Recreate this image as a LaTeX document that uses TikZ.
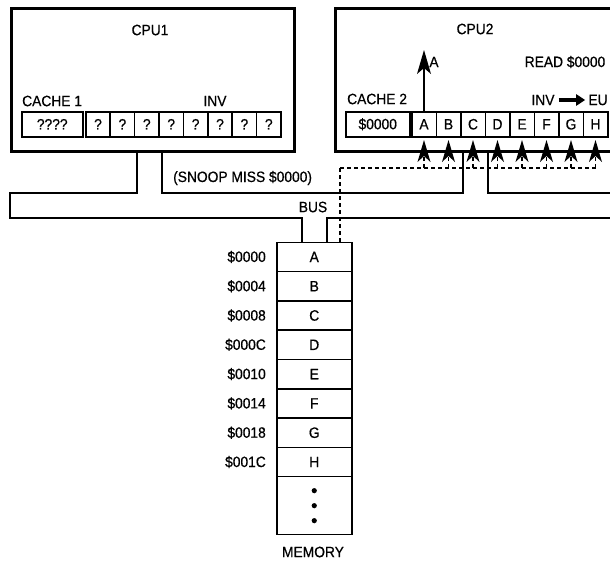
\documentclass[tikz,border=0pt]{standalone}
\usepackage{fontspec}
\setmainfont{Liberation Sans}[FakeStretch=0.92,FakeBold=0.6]
\usetikzlibrary{arrows.meta}
\begin{document}
\begin{tikzpicture}[x=1pt,y=-1pt, font=\fontsize{15}{17}\selectfont,
  cpubox/.style={draw, line width=2.8pt, inner sep=0pt, anchor=north west},
  cell/.style={draw, line width=1.5pt, minimum width=24.5pt, minimum height=25pt, inner sep=0pt, anchor=north west},
  wcell/.style={cell, minimum width=61pt},
  mcell/.style={draw, line width=1.5pt, minimum width=75pt, minimum height=29.3pt, inner sep=0pt, anchor=north west},
  wire/.style={line width=1.5pt},
  snoop/.style={line width=1.5pt, dash pattern=on 4pt off 3pt},
  head/.style={fill=black},
  lbl/.style={inner sep=0pt},
]
\useasboundingbox (0,0) rectangle (610,562);
\clip (0,0) rectangle (610,562);

% CPU boxes
\node[cpubox, minimum width=283pt, minimum height=143pt] (cpu1) at (10,7) {};
\node[cpubox, minimum width=300pt, minimum height=143pt] (cpu2) at (334,7) {};
\node[lbl] (cpu1lbl) at (150,30) {CPU1};
\node[lbl] (cpu2lbl) at (475,29) {CPU2};

% cache 1
\node[lbl, anchor=west] (cache1lbl) at (22,101) {CACHE 1};
\node[lbl] (inv1) at (215,101) {INV};
\node[wcell] (c1w) at (21,111) {????};
\foreach \i in {0,...,7} \node[cell] (c1-\i) at (85+24.4*\i,111) {?};

% cache 2
\node[lbl, anchor=west] (cache2lbl) at (347,99) {CACHE 2};
\node[wcell, minimum width=64pt] (c2w) at (345,111) {\$0000};
\foreach \l [count=\i from 0] in {A,B,C,D,E,F,G,H}
  \node[cell] (c2-\i) at (411+24.5*\i,111) {\l};
\node[lbl] (read) at (565,62) {READ \$0000};
\node[lbl] (alabel) at (434,62) {A};
\coordinate (atop) at (c2-0.north |- 0,50);
\draw[wire] (c2-0.north) -- ([yshift=-16pt]atop);
\fill[head] (atop) -- ++(-7,24) -- ++(7,-6) -- ++(7,6) -- cycle;
\node[lbl] (inv2) at (543,100) {INV};
\node[lbl] (eu) at (598,100) {EU};
\draw[line width=3.6pt, -{Triangle[length=9pt,width=11pt]}] ([xshift=4pt]inv2.east) -- ([xshift=-3pt]eu.west);

% snoop arrows into cache 2
\foreach \i in {0,...,7}{
  \coordinate (s\i) at (c2-\i.south |- 0,168);
  \coordinate (t\i) at (c2-\i.south |- 0,140);
  \draw[snoop] (s\i) -- ++(0,-14);
  \fill[head] (t\i) -- ++(-6.5,22) -- ++(6.5,-6) -- ++(6.5,6) -- cycle;
}
\coordinate (sd) at (340,168);
\draw[snoop] (s7) -- (sd);

% memory
\foreach \l/\a [count=\i from 0] in {A/0000,B/0004,C/0008,D/000C,E/0010,F/0014,G/0018,H/001C}{
  \node[mcell] (m\i) at (276,241.5+29.3*\i) {\l};
  \node[lbl, anchor=east] (ad\i) at ([xshift=-10pt]m\i.west) {\$\a};
}
\node[mcell, minimum height=58pt] (mdots) at (276,475.9) {};
\foreach \y in {-15,0,15} \fill ([yshift=\y pt]mdots.center) circle (2.6pt);
\node[lbl] (memlbl) at (313,552) {MEMORY};
\draw[snoop] (sd) -- (sd |- m0.north);

% bus
\coordinate (b1) at (137,150);
\coordinate (b2) at (162,150);
\coordinate (b3) at (463,150);
\coordinate (b4) at (488,150);
\draw[wire] (b1) -- (137,193) -- (10,193) -- (10,218) -- (302,218) -- (302,241.5);
\draw[wire] (b2) -- (162,193) -- (463,193) -- (b3);
\draw[wire] (b4) -- (488,193) -- (615,193);
\draw[wire] (327,241.5) -- (327,218) -- (615,218);
\node[lbl, anchor=west] (snooplbl) at (173,178) {(SNOOP MISS \$0000)};
\node[lbl] (buslbl) at (313,207) {BUS};
\end{tikzpicture}
\end{document}
